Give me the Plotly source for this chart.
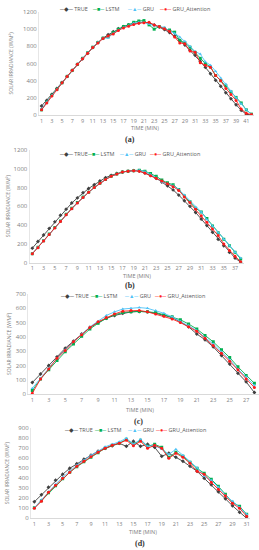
import plotly.graph_objects as go

# ---------------- data ----------------
time_a = list(range(1, 43))
true_a = [105, 170, 240, 310, 380, 450, 520, 590, 655, 720, 785, 845, 895, 935, 970, 1005, 1030, 1050, 1065, 1075,
          1080, 1070, 1050, 1025, 995, 960, 920, 870, 815, 755, 695, 625, 555, 480, 405, 335, 260, 190, 120, 55, 10, 0]
lstm_a = [60, 150, 230, 300, 375, 450, 520, 590, 660, 725, 790, 845, 895, 910, 960, 1000, 1030, 1050, 1080, 1095,
          1100, 1050, 1000, 1030, 1010, 990, 965, 870, 840, 790, 730, 660, 600, 560, 460, 400, 340, 270, 205, 140, 60, 10]
gru_a = [70, 150, 230, 300, 375, 450, 520, 590, 660, 725, 790, 845, 895, 900, 950, 990, 1020, 1040, 1070, 1080,
         1080, 1060, 1040, 1030, 1020, 980, 950, 910, 860, 800, 740, 710, 620, 580, 510, 430, 360, 280, 200, 130, 60, 10]
att_a = [60, 140, 220, 295, 375, 450, 520, 590, 655, 720, 785, 840, 890, 920, 945, 985, 1015, 1035, 1055, 1070,
         1075, 1080, 1050, 1030, 1005, 975, 910, 840, 830, 745, 730, 610, 580, 555, 460, 400, 310, 240, 170, 70, 20, 5]

time_b = list(range(1, 39))
true_b = [155, 225, 295, 365, 435, 505, 570, 635, 690, 745, 790, 830, 870, 905, 930, 950, 965, 975, 980, 975,
          955, 930, 900, 860, 820, 775, 720, 660, 600, 535, 465, 395, 325, 250, 180, 110, 50, 5]
lstm_b = [95, 165, 235, 305, 375, 445, 515, 580, 640, 700, 750, 800, 845, 885, 920, 945, 965, 975, 980, 985,
          975, 950, 920, 880, 850, 830, 780, 710, 650, 580, 540, 470, 390, 320, 250, 180, 110, 40]
gru_b = [95, 165, 235, 300, 370, 440, 510, 575, 635, 695, 750, 800, 845, 885, 920, 945, 965, 975, 980, 985,
         970, 940, 905, 860, 840, 820, 780, 720, 650, 590, 540, 460, 390, 320, 250, 180, 110, 50]
att_b = [95, 160, 230, 300, 370, 440, 510, 575, 635, 695, 750, 800, 845, 885, 920, 945, 965, 975, 980, 975,
         955, 925, 900, 870, 840, 810, 770, 700, 640, 570, 500, 430, 360, 290, 200, 130, 70, 10]

time_c = list(range(1, 29))
true_c = [80, 140, 200, 260, 320, 370, 420, 465, 500, 530, 550, 565, 575, 578, 575, 565, 550, 535, 505, 470,
          420, 380, 330, 270, 210, 145, 85, 10]
lstm_c = [25, 105, 170, 235, 295, 350, 405, 455, 495, 530, 555, 570, 575, 578, 575, 570, 555, 540, 520, 490,
          455, 410, 365, 310, 255, 190, 130, 75]
gru_c = [40, 110, 180, 250, 310, 365, 420, 470, 510, 550, 575, 595, 600, 605, 600, 585, 565, 540, 510, 480,
         445, 395, 350, 295, 240, 175, 120, 60]
att_c = [5, 105, 175, 250, 305, 365, 415, 465, 505, 535, 560, 580, 585, 585, 575, 560, 545, 525, 500, 470,
         440, 390, 340, 285, 230, 170, 105, 45]

time_d = list(range(1, 32))
true_d = [165, 235, 310, 380, 440, 500, 545, 590, 630, 670, 700, 725, 750, 720, 770, 720, 740, 710, 620, 650,
          610, 570, 520, 470, 400, 335, 265, 195, 125, 60, 0]
lstm_d = [105, 175, 255, 325, 395, 460, 515, 565, 610, 655, 700, 730, 750, 790, 740, 780, 720, 740, 710, 610,
          660, 620, 560, 500, 450, 390, 320, 240, 160, 120, 40]
gru_d = [105, 185, 265, 340, 410, 470, 530, 580, 630, 670, 715, 740, 765, 800, 740, 790, 720, 730, 690, 640,
         690, 630, 565, 505, 420, 380, 310, 230, 170, 110, 40]
att_d = [100, 170, 260, 330, 400, 460, 520, 570, 615, 660, 700, 730, 750, 780, 725, 770, 700, 730, 700, 600,
         650, 610, 550, 470, 440, 360, 290, 225, 150, 100, 20]

series_names = ["TRUE", "LSTM", "GRU", "GRU_Attention"]
panel_labels = ["(a)", "(b)", "(c)", "(d)"]
x_title = "TIME (MIN)"
y_title = "SOLAR IRRADIANCE (W/M²)"

colors = ["#404040", "#00b050", "#4fc3f7", "#ff1a1a"]
symbols = ["diamond", "square", "triangle-up", "circle"]
key_glyphs = ["─◆─", "─■─", "─▲─", "─●─"]

W, H = 259, 550

def py(p):  # pixel y -> paper
    return 1 - p / H

def px(p):
    return p / W

panels = [
    dict(t=time_a, s=[true_a, lstm_a, gru_a, att_a], xd=(39, 254), yd=(12, 115), yr=1200, dt=200,
         leg_y=9, leg_x=[57, 90, 125, 157], ytx=10, xt=(145, 127.5), lab=(130, 140)),
    dict(t=time_b, s=[true_b, lstm_b, gru_b, att_b], xd=(29.5, 243.5), yd=(150, 262.7), yr=1200, dt=200,
         leg_y=154, leg_x=[57, 85, 117, 147], ytx=8, xt=(137, 276), lab=(130, 285)),
    dict(t=time_c, s=[true_c, lstm_c, gru_c, att_c], xd=(28.2, 258.5), yd=(294, 394), yr=700, dt=100,
         leg_y=296, leg_x=[58, 88, 122, 152], ytx=9, xt=(140, 410), lab=(138, 421)),
    dict(t=time_d, s=[true_d, lstm_d, gru_d, att_d], xd=(30.8, 250.2), yd=(428.3, 518.3), yr=900, dt=100,
         leg_y=430, leg_x=[62, 92, 125, 153], ytx=7, xt=(143, 532), lab=(140, 543)),
]

fig = go.Figure()
layout = dict(
    width=W, height=H, margin=dict(l=0, r=0, t=0, b=0),
    paper_bgcolor="white", plot_bgcolor="white",
    font=dict(family="Open Sans", color="#808080", size=6),
    template="none", annotations=[], showlegend=False,
)

for i, p in enumerate(panels):
    k = "" if i == 0 else str(i + 1)
    for j, name in enumerate(series_names):
        fig.add_trace(go.Scatter(
            x=p["t"], y=p["s"][j], name=name, mode="lines+markers",
            line=dict(color=colors[j], width=0.9),
            marker=dict(color=colors[j], size=3, symbol=symbols[j], line=dict(width=0)),
            xaxis="x" + k, yaxis="y" + k,
        ))
        # compact key entry (one row, like the original)
        layout["annotations"].append(dict(
            text=f'<span style="color:{colors[j]}">{key_glyphs[j]}</span> {name}',
            x=px(p["leg_x"][j]), y=py(p["leg_y"]), xref="paper", yref="paper",
            xanchor="left", yanchor="middle", showarrow=False,
            font=dict(size=5.5, color="#595959"),
        ))
    n = len(p["t"])
    layout["xaxis" + k] = dict(
        domain=[px(p["xd"][0]), px(p["xd"][1])], anchor="y" + k,
        range=[0.5, n + 0.5], tickmode="array", tickvals=p["t"][::2],
        ticktext=[str(v) for v in p["t"][::2]],
        showgrid=False, zeroline=False, showline=True, linecolor="#d9d9d9", linewidth=1,
        ticks="", tickfont=dict(size=5.5, color="#808080"), automargin=False, fixedrange=True,
    )
    layout["yaxis" + k] = dict(
        domain=[py(p["yd"][1]), py(p["yd"][0])], anchor="x" + k,
        range=[0, p["yr"]], tickmode="linear", tick0=0, dtick=p["dt"],
        showgrid=False, zeroline=False, showline=True, linecolor="#e6e6e6", linewidth=1,
        ticks="", tickfont=dict(size=6, color="#808080"), automargin=False, fixedrange=True,
    )
    layout["annotations"].append(dict(
        text=y_title, x=px(p["ytx"]), y=py((p["yd"][0] + p["yd"][1]) / 2), xref="paper", yref="paper",
        textangle=-90, showarrow=False, font=dict(size=5, color="#808080"), xanchor="center", yanchor="middle"))
    layout["annotations"].append(dict(
        text=x_title, x=px(p["xt"][0]), y=py(p["xt"][1]), xref="paper", yref="paper",
        showarrow=False, font=dict(size=5.5, color="#808080"), xanchor="center", yanchor="middle"))
    layout["annotations"].append(dict(
        text="<b>" + panel_labels[i] + "</b>", x=px(p["lab"][0]), y=py(p["lab"][1]), xref="paper", yref="paper",
        showarrow=False, font=dict(size=8, color="#333333", family="Liberation Serif"),
        xanchor="center", yanchor="middle"))

fig.update_layout(**layout)
fig.write_html(
    "out.html",
    config={"displayModeBar": False, "responsive": False},
    post_script="document.body.style.margin='0';document.body.style.padding='0';",
)
